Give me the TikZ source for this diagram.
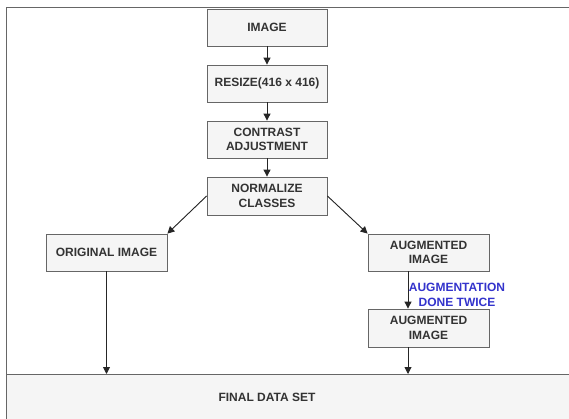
\documentclass[tikz,border=0pt]{standalone}
\usepackage{fontspec}
\setmainfont{Liberation Sans}
\usetikzlibrary{arrows.meta}
\definecolor{boxfill}{HTML}{F5F5F5}
\definecolor{boxline}{HTML}{666666}
\definecolor{txt}{HTML}{333333}
\definecolor{lbl}{HTML}{3333CC}
\begin{document}
\begin{tikzpicture}[x=1pt,y=-1pt,
  stepbox/.style={draw=boxline,fill=boxfill,line width=0.8pt,text=txt,font=\fontsize{12}{14.5}\selectfont\bfseries,align=center,inner sep=0pt},
  conn/.style={-{Triangle[length=7pt,width=7pt]},line width=0.9pt,draw=black!85,fill=black!85}]
\useasboundingbox (0,0) rectangle (569,419);
\fill[white] (0,0) rectangle (569,419);
% outer frame
\draw[boxline,line width=1pt] (6,430) -- (6,8) -- (580,8);
% boxes
\node[stepbox,minimum width=120pt,minimum height=37pt] (img) at (267,27.5) {IMAGE};
\node[stepbox,minimum width=120pt,minimum height=37pt] (rs) at (267,83.5) {RESIZE(416 x 416)};
\node[stepbox,minimum width=120pt,minimum height=37pt] (ca) at (267,139.5) {CONTRAST\\ADJUSTMENT};
\node[stepbox,minimum width=120pt,minimum height=38pt] (nc) at (267,196) {NORMALIZE\\CLASSES};
\node[stepbox,minimum width=121pt,minimum height=37pt] (oi) at (106.5,252.5) {ORIGINAL IMAGE};
\node[stepbox,minimum width=121pt,minimum height=37pt] (a1) at (428.5,252.5) {AUGMENTED\\IMAGE};
\node[stepbox,minimum width=121pt,minimum height=38pt] (a2) at (428.5,328) {AUGMENTED\\IMAGE};
\draw[boxline,fill=boxfill,line width=1pt] (6,374) rectangle (580,430);
\node[text=txt,font=\fontsize{12}{14.5}\selectfont\bfseries] (fd) at (267,397) {FINAL DATA SET};
\coordinate (fl) at (106.5,374);
\coordinate (fr) at (408,374);
% connectors
\draw[conn] (nc.west) -- (oi.north east);
\draw[conn] (img) -- (rs);
\draw[conn] (rs) -- (ca);
\draw[conn] (ca) -- (nc);
\draw[conn] (nc.east) -- (a1.north west);
\draw[conn] (oi.south) -- (fl);
\draw[conn] (a1.south -| fr) -- (a2.north -| fr);
\draw[conn] (a2.south -| fr) -- (fr);
\node[text=lbl,font=\fontsize{12}{14.5}\selectfont\bfseries,align=center,inner sep=0pt] (lab) at (457,295) {AUGMENTATION\\DONE TWICE};
\end{tikzpicture}
\end{document}
